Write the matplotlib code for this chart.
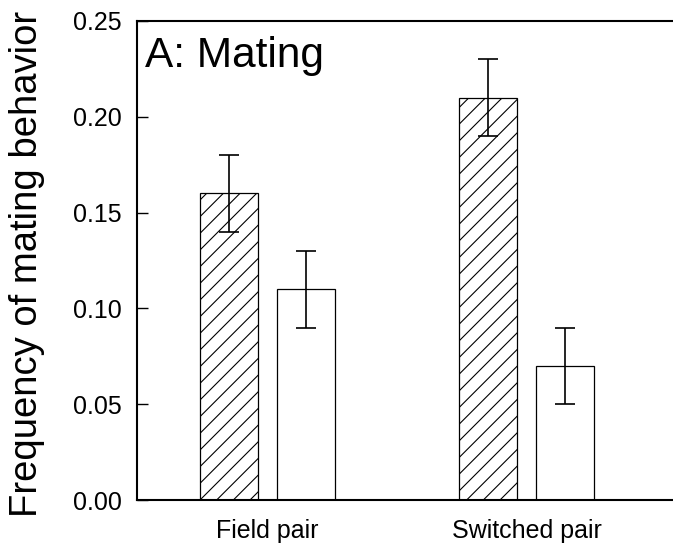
import matplotlib
matplotlib.use('Agg')
import matplotlib.pyplot as plt
import numpy as np

groups = ['Field pair', 'Switched pair']
hatched_vals = [0.16, 0.21]
hatched_err = [0.02, 0.02]
open_vals = [0.11, 0.07]
open_err = [0.02, 0.02]
yticks = [0.00, 0.05, 0.10, 0.15, 0.20, 0.25]

plt.rcParams['font.family'] = ['Liberation Sans', 'DejaVu Sans']
plt.rcParams['hatch.linewidth'] = 0.8

fig = plt.figure(figsize=(6.73, 5.52), dpi=100)
ax = fig.add_axes([137 / 673, 52 / 552, 536 / 673, 479 / 552])

x = np.arange(len(groups))
w = 0.224
off = 0.1486
err_kw = dict(ecolor='black', elinewidth=1.2, capsize=7.5, capthick=1.2)
ax.bar(x - off, hatched_vals, w, yerr=hatched_err, color='white',
       edgecolor='black', linewidth=0.9, hatch='//', error_kw=err_kw)
ax.bar(x + off, open_vals, w, yerr=open_err, color='white',
       edgecolor='black', linewidth=0.9, error_kw=err_kw)

ax.set_xlim(-0.504, 1.566)
ax.set_ylim(0, 0.25)
ax.set_xticks(x)
ax.set_xticklabels(groups, fontsize=18)
ax.set_yticks(yticks)
ax.set_yticklabels([f'{v:.2f}' for v in yticks], fontsize=18)
ax.tick_params(axis='x', length=0, pad=14)
ax.tick_params(axis='y', direction='in', length=8, width=1, pad=11)

for s in ['left', 'bottom', 'top']:
    ax.spines[s].set_linewidth(1.5)
ax.spines['right'].set_visible(False)

ax.text(0.015, 0.904, 'A: Mating', transform=ax.transAxes, fontsize=30.5,
        va='baseline', ha='left')
fig.text(27 / 673, 0.522, 'Frequency of mating behavior', rotation=90,
         fontsize=27.5, ha='center', va='center')

fig.savefig('out.png', dpi=100)
